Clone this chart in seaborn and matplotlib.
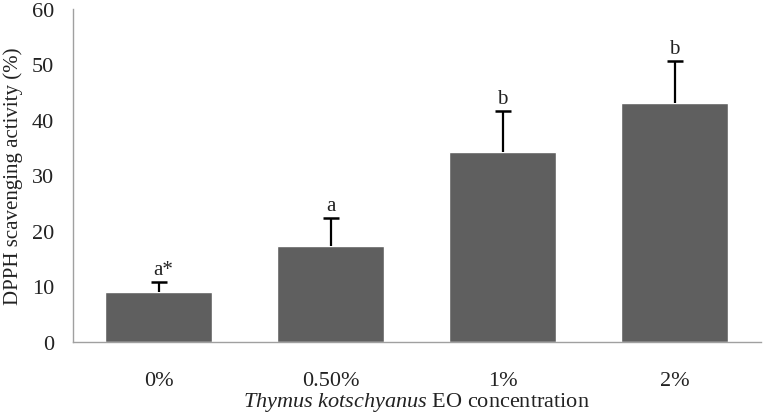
import matplotlib
matplotlib.use("Agg")
import matplotlib.pyplot as plt
import seaborn as sns

# Data
categories = ["0%", "0.50%", "1%", "2%"]
activity = [8.9, 17.3, 34.3, 43.0]
sd = [1.9, 5.0, 7.3, 7.6]
letters = ["a*", "a", "b", "b"]

sns.set_style("white")
plt.rcParams["font.family"] = ["Liberation Serif", "DejaVu Serif"]
plt.rcParams["mathtext.fontset"] = "custom"
plt.rcParams["mathtext.rm"] = "Liberation Serif"
plt.rcParams["mathtext.it"] = "Liberation Serif:italic"

fig = plt.figure(figsize=(7.66, 4.14), dpi=100)
ax = fig.add_axes([0.095, 0.172, 0.898, 0.804])

sns.barplot(x=categories, y=activity, color="#5f5f5f", saturation=1,
            width=0.62, ax=ax, errorbar=None)

# upper-only error bars with a cap at the top
xs = list(range(len(categories)))
tops = [v + e for v, e in zip(activity, sd)]
ax.errorbar(xs, activity, yerr=[[0] * len(sd), sd], fmt="none",
            ecolor="black", elinewidth=1.6, capsize=0)
ax.plot(xs, tops, ls="none", marker="_", ms=11, mew=1.8, color="black")

for x, t, lab in zip(xs, tops, letters):
    ax.annotate(lab, (x, t), xytext=(3 if lab == "a*" else 0, 2),
                textcoords="offset points", ha="center", va="bottom",
                fontsize=15, color="#222222")

ax.set_ylim(0, 60)
ax.set_xlim(-0.5, 3.5)
ax.set_yticks(range(0, 61, 10))
ax.tick_params(axis="y", direction="inout", length=7, width=0.8,
               color="#a0a0a0", labelsize=16, pad=10, labelcolor="#222222")
ax.tick_params(axis="x", length=0, labelsize=16, pad=21, labelcolor="#222222")

for s in ["top", "right"]:
    ax.spines[s].set_visible(False)
for s in ["left", "bottom"]:
    ax.spines[s].set_color("#a0a0a0")
    ax.spines[s].set_linewidth(1)

ax.set_ylabel("DPPH scavenging activity (%)", fontsize=15, labelpad=6,
              color="#222222")
ax.set_xlabel(r"$\mathit{Thymus\ kotschyanus}$ EO concentration",
              fontsize=16, labelpad=0, color="#222222")

fig.savefig("out.png", dpi=100)
